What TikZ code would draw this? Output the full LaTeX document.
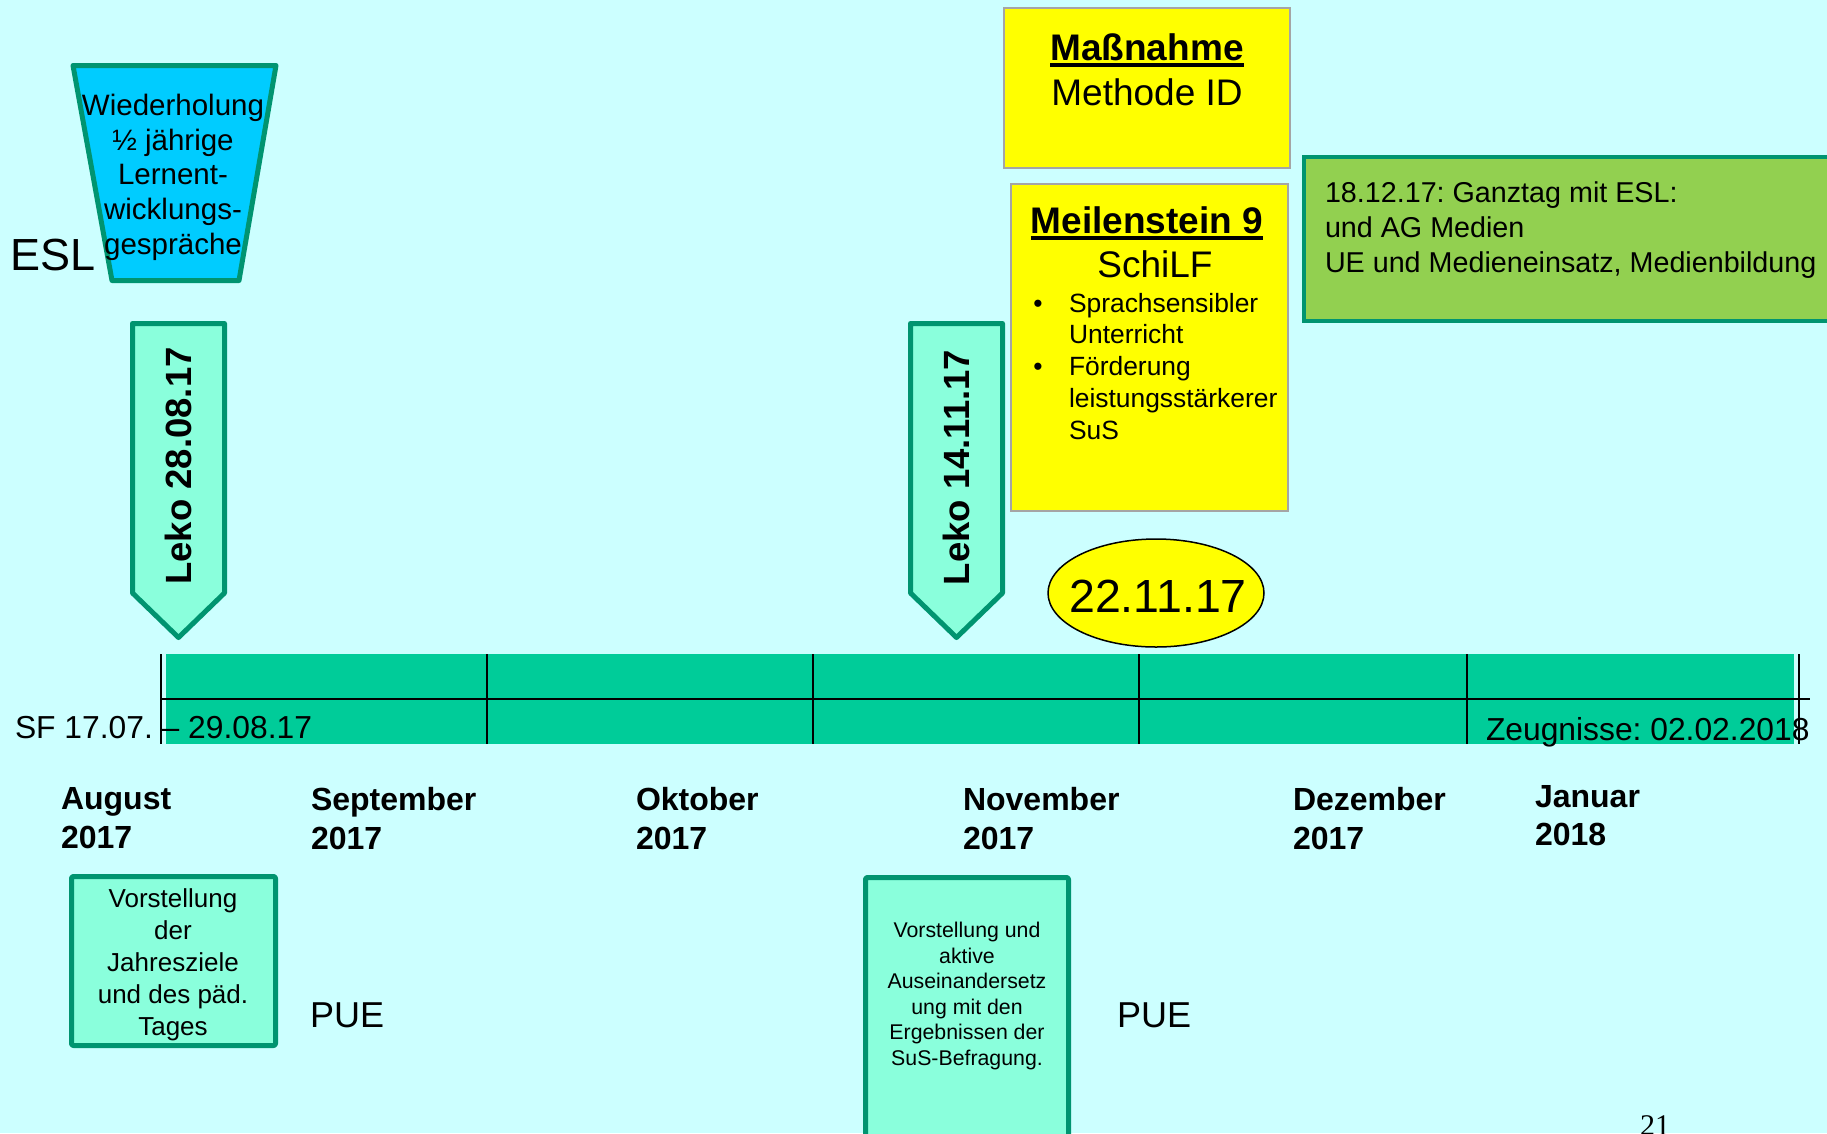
\documentclass[tikz,border=0pt]{standalone}
\usepackage{fontspec}
\setmainfont{Liberation Sans}
\newfontfamily\pagenumfont{Liberation Serif}
\usetikzlibrary{shapes.geometric}
\newcommand\setfs[2]{\fontsize{#1}{#2}\selectfont}
\definecolor{bgc}{RGB}{204,255,255}
\definecolor{tealc}{RGB}{0,148,112}
\definecolor{mintc}{RGB}{138,255,220}
\definecolor{barc}{RGB}{0,204,153}
\definecolor{trapc}{RGB}{0,204,255}
\definecolor{yelc}{RGB}{255,255,0}
\definecolor{grayc}{RGB}{165,165,165}
\definecolor{greenc}{RGB}{146,208,80}
\frenchspacing
\begin{document}
\begin{tikzpicture}[x=1pt,y=-1pt,
  txt/.style={inner sep=0pt, outer sep=0pt},
  tealedge/.style={draw=tealc, line width=5pt, line join=round},
  ybox/.style={draw=grayc, fill=yelc, line width=2pt},
  month/.style={txt, anchor=north west, align=left, font=\bfseries\setfs{32}{39}},
  pue/.style={txt, anchor=base west, font=\setfs{36}{43}},
  leko/.style={txt, rotate=90, font=\bfseries\setfs{36.5}{44}},
  uline/.style={line width=4pt}]
\useasboundingbox (0,0) rectangle (1827,1133);
\fill[bgc] (0,0) rectangle (1827,1133);
\clip (0,0) rectangle (1827,1133);

% ESL label and the trapezoid
\node[txt, anchor=base west, font=\setfs{45}{54}] (esl) at (10,270) {ESL};
\draw[tealedge, fill=trapc] (73,65.5) -- (276,65.5) -- (239,280.5) -- (112,280.5) -- cycle;
\node[txt, anchor=north, align=center, font=\setfs{29.5}{34.8}] (wdh) at (173,94)
  {Wiederholung\\½ jährige\\Lernent-\\wicklungs-\\gespräche};

% Leko arrows
\draw[tealedge, fill=mintc] (132.5,323.5) -- (224.5,323.5) -- (224.5,593) -- (178.5,637.5) -- (132.5,593) -- cycle;
\node[leko] (leko1) at (178.5,466) {Leko 28.08.17};
\draw[tealedge, fill=mintc] (910.5,323.5) -- (1002.5,323.5) -- (1002.5,593) -- (956.5,637.5) -- (910.5,593) -- cycle;
\node[leko] (leko2) at (956.5,467.5) {Leko 14.11.17};

% Maßnahme box
\path[ybox] (1004,8) rectangle (1290,168);
\node[txt, anchor=base, font=\bfseries\setfs{37}{44}] (mass) at (1147,60) {Maßnahme};
\draw[uline] ([yshift=-4.5pt]mass.base west) -- ([yshift=-4.5pt]mass.base east);
\node[txt, anchor=base, font=\setfs{37}{44}] (meth) at (1147,105) {Methode ID};

% Meilenstein box
\path[ybox] (1011,184) rectangle (1288,511);
\node[txt, anchor=base, font=\bfseries\setfs{37}{44}] (meil) at (1147,233) {Meilenstein 9};
\draw[uline] ([yshift=-4.5pt]meil.base west) -- ([yshift=-4.5pt]meil.base east);
\node[txt, anchor=base, font=\setfs{37}{44}] (schilf) at (1155,277.5) {SchiLF};
\node[txt, anchor=north west, align=left, font=\setfs{26.4}{31.8}] (items) at (1069,293)
  {Sprachsensibler\\Unterricht\\Förderung\\leistungsstärkerer\\SuS};
\node[txt, anchor=base, font=\setfs{26.4}{31.8}] (bul1) at (1038,312) {•};
\node[txt, anchor=base, font=\setfs{26.4}{31.8}] (bul2) at (1038,375.6) {•};

% Ganztag box
\draw[draw=tealc, line width=4pt, fill=greenc] (1304,157) rectangle (1850,321);
\node[txt, anchor=north west, align=left, font=\setfs{28.7}{35}] (ganz) at (1325,181.5)
  {18.12.17: Ganztag mit ESL:\\und AG Medien\\UE und Medieneinsatz, Medienbildung};

% date ellipse
\node[ellipse, draw=black, line width=1.5pt, fill=yelc, minimum width=216pt, minimum height=108pt,
  inner sep=0pt] (datum) at (1156,593) {};
\node[txt, anchor=base, font=\setfs{46.5}{56}] (datumtxt) at (1158,612) {22.11.17};

% timeline bar
\fill[barc] (166,654) rectangle (1794,744);
\draw[line width=2pt] (161,699) -- (1810,699);
\foreach \x in {161,487,813,1139,1467,1799}
  \draw[line width=2pt] (\x,654) -- (\x,744);
\node[txt, anchor=base west, font=\setfs{31.8}{38}] (sf) at (15,738) {SF 17.07. – 29.08.17};
\node[txt, anchor=base west, font=\setfs{31.8}{38}] (zeug) at (1486,740) {Zeugnisse: 02.02.2018};

% months
\node[month] (aug) at (61,787) {August\\2017};
\node[month] (sep) at (311,787) {September\\2017};
\node[month] (okt) at (636,787) {Oktober\\2017};
\node[month] (nov) at (963,787) {November\\2017};
\node[month] (dez) at (1293,787) {Dezember\\2017};
\node[txt, anchor=north west, align=left, font=\bfseries\setfs{32}{38}] (jan) at (1535,785) {Januar\\2018};

% lower boxes
\draw[tealedge, fill=mintc, rounded corners=2pt] (71.5,876.5) rectangle (275.5,1045.5);
\node[txt, anchor=north, align=center, font=\setfs{26}{32}] (jahr) at (173,889)
  {Vorstellung\\der\\Jahresziele\\und des päd.\\Tages};
\node[pue] (pue1) at (310,1027) {PUE};
\draw[tealedge, fill=mintc, rounded corners=2pt] (865.5,877.5) rectangle (1068.5,1160);
\node[txt, anchor=north, align=center, font=\setfs{21.3}{25.5}] (befr) at (967,922.5)
  {Vorstellung und\\aktive\\Auseinandersetz\\ung mit den\\Ergebnissen der\\SuS-Befragung.};
\node[pue] (pue2) at (1117,1027) {PUE};

% page number
\node[txt, anchor=base west, font=\pagenumfont\setfs{30}{36}] (pg) at (1640,1135) {21};
\end{tikzpicture}
\end{document}
